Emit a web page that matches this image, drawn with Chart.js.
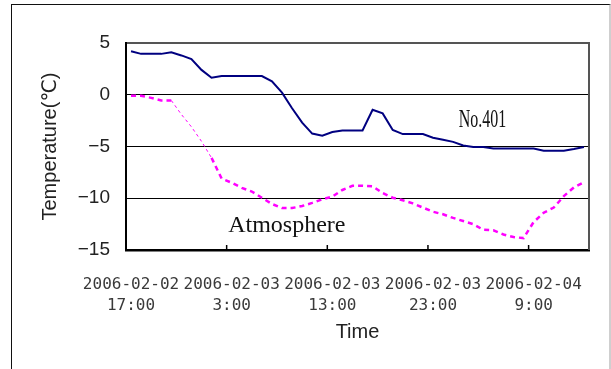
<!DOCTYPE html>
<html><head><meta charset="utf-8">
<script src="https://cdn.jsdelivr.net/npm/chart.js@4.4.0/dist/chart.umd.min.js"></script>
<style>
html,body{margin:0;padding:0;background:#fff;width:611px;height:369px;overflow:hidden;}
#frame{position:absolute;left:11px;top:4px;width:600px;height:420px;box-sizing:border-box;border-left:1px solid #111;border-top:1px solid #111;border-right:2px solid #cfcfcf;}
#wrap{position:absolute;left:0;top:0;width:611px;height:369px;}
</style></head><body>
<div id="frame"></div>
<div id="wrap"><canvas id="c" width="611" height="369"></canvas></div>
<script>
const categories = [
 "2006-02-02 17:00","2006-02-02 18:00","2006-02-02 19:00","2006-02-02 20:00","2006-02-02 21:00","2006-02-02 22:00","2006-02-02 23:00",
 "2006-02-03 0:00","2006-02-03 1:00","2006-02-03 2:00","2006-02-03 3:00","2006-02-03 4:00","2006-02-03 5:00","2006-02-03 6:00",
 "2006-02-03 7:00","2006-02-03 8:00","2006-02-03 9:00","2006-02-03 10:00","2006-02-03 11:00","2006-02-03 12:00","2006-02-03 13:00",
 "2006-02-03 14:00","2006-02-03 15:00","2006-02-03 16:00","2006-02-03 17:00","2006-02-03 18:00","2006-02-03 19:00","2006-02-03 20:00",
 "2006-02-03 21:00","2006-02-03 22:00","2006-02-03 23:00",
 "2006-02-04 0:00","2006-02-04 1:00","2006-02-04 2:00","2006-02-04 3:00","2006-02-04 4:00","2006-02-04 5:00","2006-02-04 6:00",
 "2006-02-04 7:00","2006-02-04 8:00","2006-02-04 9:00","2006-02-04 10:00","2006-02-04 11:00","2006-02-04 12:00","2006-02-04 13:00",
 "2006-02-04 14:00"
];
const no401 = [
 4.2, 3.95, 3.95, 3.95, 4.1, 3.8, 3.45, 2.4, 1.65, 1.8,
 1.8, 1.8, 1.8, 1.8, 1.3, 0.2, -1.3, -2.7, -3.75, -3.95,
 -3.6, -3.45, -3.45, -3.45, -1.45, -1.8, -3.4, -3.8, -3.8, -3.8,
 -4.15, -4.35, -4.55, -4.9, -5.05, -5.05, -5.2, -5.2, -5.2, -5.2,
 -5.2, -5.4, -5.4, -5.4, -5.25, -5.05
];
const atmosphere = [
 -0.1, -0.1, -0.3, -0.55, -0.55, -1.9, -3.1, -4.5, -6.1, -8.1,
 -8.5, -9.0, -9.35, -9.95, -10.55, -10.95, -10.95, -10.75, -10.45, -10.1,
 -9.85, -9.2, -8.8, -8.8, -8.85, -9.5, -9.95, -10.2, -10.5, -10.9,
 -11.3, -11.55, -11.9, -12.2, -12.5, -13.05, -13.1, -13.5, -13.75, -13.85,
 -12.3, -11.4, -10.9, -9.8, -8.95, -8.45
];
const yTickValues = [5, 0, -5, -10, -15];
const seriesNames = ["No.401", "Atmosphere"];

const deco = {
  id: 'deco',
  afterDatasetsDraw(chart) {
    const {ctx, chartArea: a, scales: {x, y}} = chart;
    ctx.save();
    ctx.strokeStyle = '#555'; ctx.lineWidth = 2;
    ctx.beginPath(); ctx.moveTo(a.right, a.top - 1); ctx.lineTo(a.right, a.bottom); ctx.stroke();
    ctx.strokeStyle = '#000'; ctx.lineWidth = 1.5;
    for (let i = 10; i < categories.length; i += 10) {
      const px = (x.getPixelForValue(i - 1) + x.getPixelForValue(i)) / 2;
      ctx.beginPath(); ctx.moveTo(px, a.bottom); ctx.lineTo(px, a.bottom - 5); ctx.stroke();
    }
    ctx.fillStyle = '#111';
    ctx.textBaseline = 'alphabetic';
    ctx.textAlign = 'left';
    ctx.font = '24px "Liberation Serif", serif';
    ctx.fillText(seriesNames[1], x.getPixelForValue(9.65), y.getPixelForValue(-13.3));
    const nx = x.getPixelForValue(32.55), ny = y.getPixelForValue(-3.15);
    ctx.translate(nx, ny); ctx.scale(0.64, 1);
    ctx.font = '25px "Liberation Serif", serif';
    ctx.fillText(seriesNames[0], 0, 0);
    ctx.restore();
  }
};

new Chart(document.getElementById('c'), {
  type: 'line',
  data: {
    labels: categories,
    datasets: [
      { label: seriesNames[0], data: no401, borderColor: '#000080', borderWidth: 2, pointRadius: 0, tension: 0, fill: false },
      { label: seriesNames[1], data: atmosphere, borderColor: '#ff00ff', borderWidth: 2.5, borderDash: [5, 4], pointRadius: 0, tension: 0, fill: false,
        segment: { borderWidth: c => (c.p0DataIndex >= 4 && c.p0DataIndex < 8) ? 1 : 2.5,
                   borderDash: c => (c.p0DataIndex >= 4 && c.p0DataIndex < 8) ? [3, 3] : [5, 4] } }
    ]
  },
  options: {
    responsive: false, animation: false, devicePixelRatio: 1,
    layout: { padding: { top: 43, right: 22, left: 0, bottom: 0 } },
    plugins: { legend: { display: false }, tooltip: { enabled: false } },
    scales: {
      x: {
        type: 'category', offset: true,
        grid: { display: false },
        border: { display: true, color: '#000', width: 2.5 },
        ticks: {
          autoSkip: false, maxRotation: 0, minRotation: 0, padding: 16.5,
          color: '#3a3a3a', font: { family: '"DejaVu Sans Mono", monospace', size: 16, lineHeight: 1.3 },
          callback: function (v, i) { return i % 10 === 0 ? this.getLabelForValue(v).split(' ') : ''; }
        },
        title: { display: true, text: 'Time', color: '#222', font: { family: '"Liberation Sans", Arial, sans-serif', size: 20, lineHeight: 1.2 }, padding: { top: 0, bottom: 25 } },
        afterFit: s => { s.height = 119; }
      },
      y: {
        min: -15, max: 5,
        afterBuildTicks: s => { s.ticks = yTickValues.map(v => ({ value: v })); },
        grid: {
          drawTicks: false,
          color: c => c.tick.value === 5 ? '#555' : (c.tick.value === -15 ? 'rgba(0,0,0,0)' : '#000'),
          lineWidth: c => c.tick.value === 5 ? 2 : 1
        },
        border: { display: true, color: '#000', width: 2 },
        ticks: {
          padding: 16, color: '#222',
          font: { family: '"Liberation Sans", Arial, sans-serif', size: 19 },
          callback: v => String(v).replace('-', '\u2212')
        },
        title: { display: true, text: 'Temperature(℃)', color: '#222', font: { family: '"Liberation Sans", "DejaVu Sans", sans-serif', size: 20, lineHeight: 1.2 }, padding: { top: 38, bottom: 0 } },
        afterFit: s => { s.width = 126; }
      }
    }
  },
  plugins: [deco]
});
</script>
</body></html>
